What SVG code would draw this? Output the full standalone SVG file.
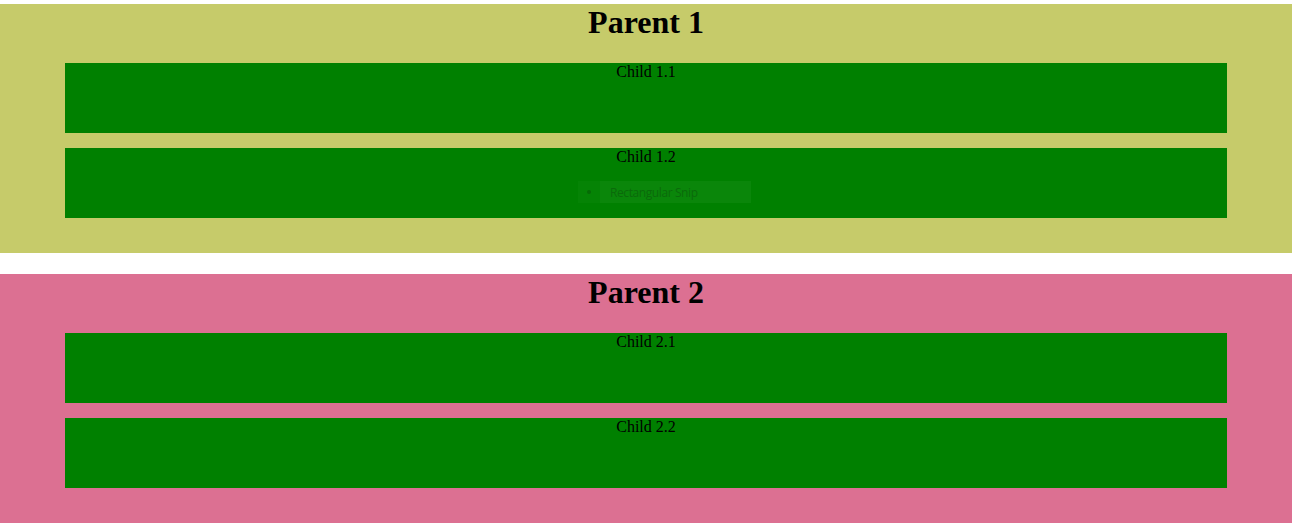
<svg xmlns="http://www.w3.org/2000/svg" width="1294" height="525" viewBox="0 0 1294 525">
<style>
.p1{fill:#c6cb6a}
.p2{fill:#dc7092}
.c{fill:#008000}
.pt{font-family:"Liberation Serif",serif;font-size:32px;font-weight:bold;fill:#000;text-anchor:middle}
.ct{font-family:"Liberation Serif",serif;font-size:16px;fill:#000;text-anchor:middle}
</style>
<rect width="1294" height="525" fill="#ffffff"/>
<g id="parent1">
<rect class="p1" x="0" y="4" width="1292" height="249"/>
<text class="pt" x="646" y="33">Parent 1</text>
</g>
<g id="child1-1">
<rect class="c" x="65" y="63" width="1162" height="70"/>
<text class="ct" x="646" y="77">Child 1.1</text>
</g>
<g id="child1-2">
<rect class="c" x="65" y="148" width="1162" height="70"/>
<text class="ct" x="646" y="162">Child 1.2</text>
<g id="snip-overlay">
<rect x="578" y="181" width="173" height="22" fill="#0a860a"/>
<rect x="578" y="181" width="22" height="22" fill="#058305"/>
<circle cx="589" cy="192" r="2" fill="#066a06"/>
<text x="610" y="197" font-family="'Open Sans',sans-serif" font-size="12" textLength="88" fill="#0a6a0a">Rectangular Snip</text>
</g>
</g>
<g id="parent2">
<rect class="p2" x="0" y="274" width="1292" height="249"/>
<text class="pt" x="646" y="303">Parent 2</text>
</g>
<g id="child2-1">
<rect class="c" x="65" y="333" width="1162" height="70"/>
<text class="ct" x="646" y="347">Child 2.1</text>
</g>
<g id="child2-2">
<rect class="c" x="65" y="418" width="1162" height="70"/>
<text class="ct" x="646" y="432">Child 2.2</text>
</g>
<g id="connectors"/>
</svg>
